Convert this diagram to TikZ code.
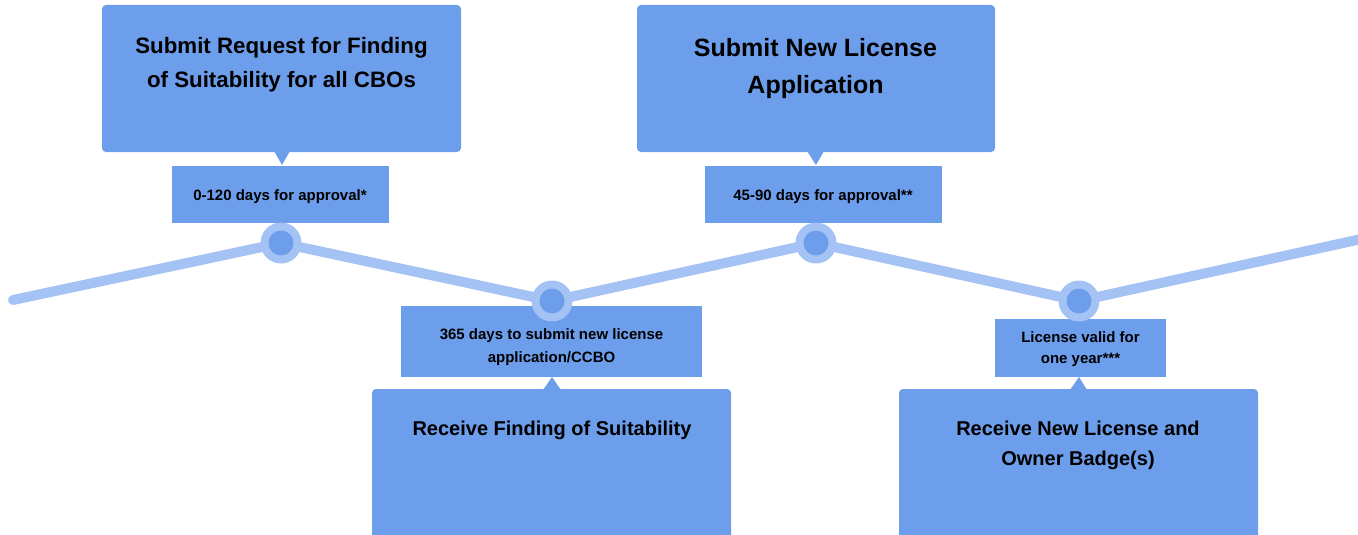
\documentclass[tikz,border=0pt]{standalone}
\usepackage{fontspec}
\setmainfont{Liberation Sans}
\definecolor{boxc}{HTML}{6D9EEB}
\definecolor{linec}{HTML}{A4C2F4}
\begin{document}
\begin{tikzpicture}[x=1pt,y=-1pt,
  bigbox/.style={fill=boxc, rounded corners=4pt, inner sep=0pt, minimum width=359pt},
  lbox/.style={fill=boxc, inner sep=0pt},
  txt/.style={inner sep=0pt, anchor=base, align=center, font=\bfseries},
  dot/.style={circle, minimum size=41pt, inner sep=0pt, fill=linec,
    path picture={\fill[boxc] (path picture bounding box.center) circle (12.5pt);}},
  pointer/.style={fill=boxc},
  track/.style={draw=linec, line width=10pt, line cap=round, line join=round}]
\useasboundingbox (0,0) rectangle (1358,535);
\clip (0,0) rectangle (1358,535);
% boxes
\node[bigbox, minimum height=147pt] (b1) at (281.5,78.5) {};
\node[bigbox, minimum width=358pt, minimum height=147pt] (b3) at (816,78.5) {};
\node[bigbox, minimum height=170pt] (b2) at (551.5,474) {};
\node[bigbox, minimum height=170pt] (b4) at (1078.5,474) {};
% labels
\node[lbox, minimum width=217pt, minimum height=57pt] (l1) at (280.5,194.5) {};
\node[lbox, minimum width=237pt, minimum height=57pt] (l3) at (823.5,194.5) {};
\node[lbox, minimum width=301pt, minimum height=71pt] (l2) at (551.5,341.5) {};
\node[lbox, minimum width=171pt, minimum height=58pt] (l4) at (1080.5,348) {};
% pointers
\coordinate (t1) at (282,165); \coordinate (t3) at (816,165);
\coordinate (t2) at (552,377); \coordinate (t4) at (1079,377);
\fill[pointer] (274,151) -- (t1) -- (290,151) -- cycle;
\fill[pointer] (807,151) -- (t3) -- (824,151) -- cycle;
\fill[pointer] (543,390) -- (t2) -- (561,390) -- cycle;
\fill[pointer] (1070,390) -- (t4) -- (1087,390) -- cycle;
% track
\coordinate (p0) at (13,300);
\coordinate (p1) at (281,243);
\coordinate (p2) at (552,301);
\coordinate (p3) at (816,243);
\coordinate (p4) at (1079,301);
\coordinate (p5) at (1375,236);
\draw[track] (p0) -- (p1) -- (p2) -- (p3) -- (p4) -- (p5);
\node[dot] (c1) at (p1) {};
\node[dot] (c2) at (p2) {};
\node[dot] (c3) at (p3) {};
\node[dot] (c4) at (p4) {};
% texts (base anchor = baseline of last line)
\node[txt, font=\bfseries\fontsize{22.3}{34}\selectfont] (tx1) at (281.5,88) {Submit Request for Finding\\of Suitability for all CBOs};
\node[txt, font=\bfseries\fontsize{25}{36}\selectfont] (tx3) at (815.5,93) {Submit New License\\Application};
\node[txt, font=\bfseries\fontsize{20}{30}\selectfont] (tx2) at (552,435) {Receive Finding of Suitability};
\node[txt, font=\bfseries\fontsize{20}{30}\selectfont] (tx4) at (1078,465) {Receive New License and\\Owner Badge(s)};
\node[txt, font=\bfseries\fontsize{15}{22}\selectfont] (lt1) at (280,200) {0-120 days for approval*};
\node[txt, font=\bfseries\fontsize{15}{22}\selectfont] (lt3) at (823,200) {45-90 days for approval**};
\node[txt, font=\bfseries\fontsize{15}{23}\selectfont] (lt2) at (551.5,362) {365 days to submit new license\\application/CCBO};
\node[txt, font=\bfseries\fontsize{15}{21}\selectfont] (lt4) at (1080.5,363) {License valid for\\one year***};
\end{tikzpicture}
\end{document}
